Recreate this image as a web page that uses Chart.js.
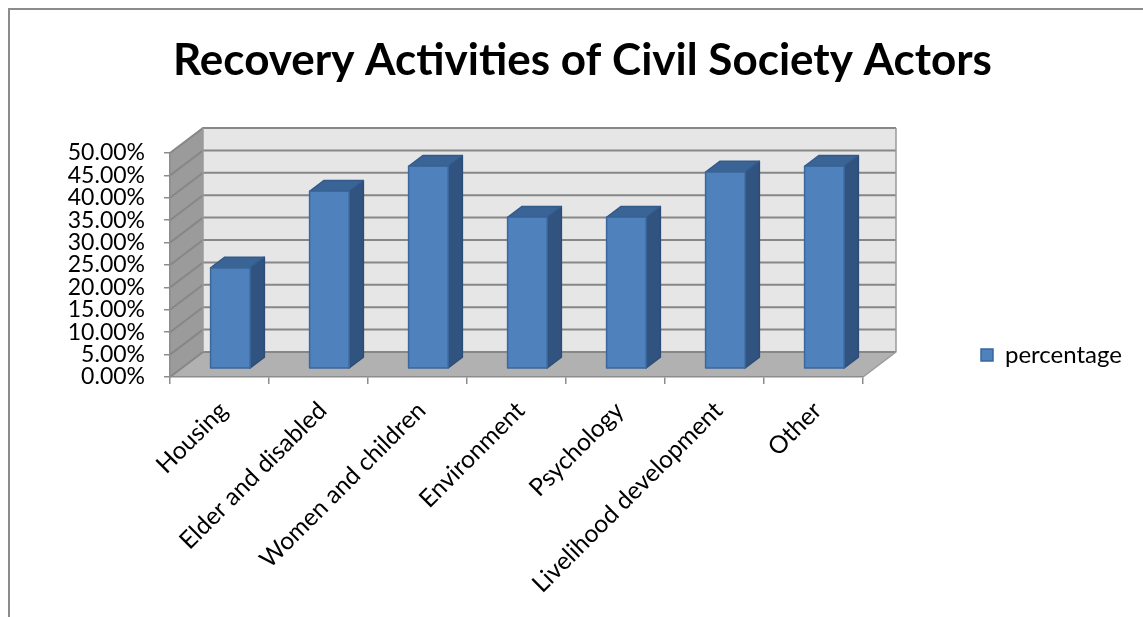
<!DOCTYPE html>
<html>
<head>
<meta charset="utf-8">
<script src="https://cdn.jsdelivr.net/npm/chart.js@4.4.1/dist/chart.umd.min.js"></script>
<style>
  html, body { margin: 0; padding: 0; background: #fff; }
</style>
</head>
<body>
<canvas id="chart" width="1143" height="617"></canvas>
<script>
const categories = ['Housing', 'Elder and disabled', 'Women and children', 'Environment', 'Psychology', 'Livelihood development', 'Other'];
const percentage = [0.225, 0.396, 0.452, 0.338, 0.338, 0.439, 0.452];
const yTickLabels = ['0.00%', '5.00%', '10.00%', '15.00%', '20.00%', '25.00%', '30.00%', '35.00%', '40.00%', '45.00%', '50.00%'];

// oblique "3D" offset of the back wall and where the bars sit in depth
const DEPTH = { x: 33, y: -25 };
const BAR_FRONT = 0.33;
const BAR_DEPTH = 0.43;

function poly(ctx, pts) {
    ctx.beginPath();
    ctx.moveTo(pts[0][0], pts[0][1]);
    for (let i = 1; i < pts.length; i++) ctx.lineTo(pts[i][0], pts[i][1]);
    ctx.closePath();
}

const threeD = {
    id: 'threeD',
    beforeDraw(chart) {
        const { ctx, chartArea: a } = chart;
        const y = chart.scales.y;
        const dx = DEPTH.x, dy = DEPTH.y;
        ctx.save();
        // side wall
        ctx.fillStyle = '#9b9b9b';
        poly(ctx, [[a.left, a.top], [a.left + dx, a.top + dy], [a.left + dx, a.bottom + dy], [a.left, a.bottom]]);
        ctx.fill();
        // back wall
        ctx.fillStyle = '#e6e6e6';
        ctx.fillRect(a.left + dx, a.top + dy, a.right - a.left, a.bottom - a.top);
        // floor
        ctx.fillStyle = '#b1b1b1';
        poly(ctx, [[a.left, a.bottom], [a.left + dx, a.bottom + dy], [a.right + dx, a.bottom + dy], [a.right, a.bottom]]);
        ctx.fill();

        // gridlines on side and back wall
        ctx.strokeStyle = '#878787';
        ctx.lineWidth = 2;
        y.ticks.forEach(t => {
            const py = y.getPixelForValue(t.value);
            ctx.beginPath();
            ctx.moveTo(a.left, py);
            ctx.lineTo(a.left + dx, py + dy);
            ctx.lineTo(a.right + dx, py + dy);
            ctx.stroke();
        });
        // wall edges
        ctx.strokeStyle = '#9a9a9a';
        ctx.lineWidth = 1.5;
        ctx.beginPath();
        ctx.moveTo(a.left + dx, a.top + dy);
        ctx.lineTo(a.left + dx, a.bottom + dy);
        ctx.moveTo(a.right + dx, a.top + dy);
        ctx.lineTo(a.right + dx, a.bottom + dy);
        ctx.lineTo(a.right, a.bottom);
        ctx.stroke();
        ctx.restore();
    },
    beforeDatasetDraw(chart, args) {
        const { ctx } = chart;
        const meta = chart.getDatasetMeta(args.index);
        const fx = DEPTH.x * BAR_FRONT, fy = DEPTH.y * BAR_FRONT;
        const ddx = DEPTH.x * BAR_DEPTH, ddy = DEPTH.y * BAR_DEPTH;
        ctx.save();
        ctx.lineWidth = 1.5;
        ctx.lineJoin = 'round';
        meta.data.forEach(bar => {
            const p = bar.getProps(['x', 'y', 'base', 'width'], true);
            const l = p.x - p.width / 2 + fx, r = p.x + p.width / 2 + fx;
            const t = p.y + fy, b = p.base + fy;
            // side
            ctx.fillStyle = '#30547f';
            ctx.strokeStyle = '#2c4d77';
            poly(ctx, [[r, t], [r + ddx, t + ddy], [r + ddx, b + ddy], [r, b]]);
            ctx.fill(); ctx.stroke();
            // top
            ctx.fillStyle = '#3a6396';
            ctx.strokeStyle = '#335a8a';
            poly(ctx, [[l, t], [l + ddx, t + ddy], [r + ddx, t + ddy], [r, t]]);
            ctx.fill(); ctx.stroke();
            // front
            ctx.fillStyle = '#4f81bd';
            ctx.strokeStyle = '#3a679c';
            ctx.fillRect(l, t, r - l, b - t);
            ctx.strokeRect(l, t, r - l, b - t);
        });
        ctx.restore();
        return false;
    },
    afterDraw(chart) {
        const { ctx } = chart;
        ctx.save();
        ctx.strokeStyle = '#8c8c8c';
        ctx.lineWidth = 2;
        ctx.beginPath();
        ctx.moveTo(9, chart.height);
        ctx.lineTo(9, 9);
        ctx.lineTo(chart.width, 9);
        ctx.stroke();
        ctx.restore();
    }
};

Chart.defaults.font.family = 'Lato';
Chart.defaults.color = '#000';

new Chart(document.getElementById('chart'), {
    type: 'bar',
    data: {
        labels: categories,
        datasets: [{
            label: 'percentage',
            data: percentage,
            backgroundColor: '#4f81bd',
            borderColor: '#3a679c',
            borderWidth: 1.5,
            barPercentage: 0.4,
            categoryPercentage: 1
        }]
    },
    options: {
        responsive: false,
        animation: false,
        layout: { padding: { left: 33, right: 11, top: 0, bottom: 0 } },
        scales: {
            x: {
                grid: { drawOnChartArea: false, color: '#8c8c8c', tickLength: 7, lineWidth: 1.5 },
                border: { color: '#8c8c8c', width: 1.5 },
                ticks: { minRotation: 45, maxRotation: 45, autoSkip: false, padding: 12, labelOffset: 4, font: { size: 24.5 } },
                afterFit(s) { s.height = 617 - 377; }
            },
            y: {
                min: 0,
                max: 0.5,
                grid: { drawOnChartArea: false, color: '#8c8c8c', tickLength: 6, lineWidth: 1.5 },
                border: { color: '#8c8c8c', width: 1.5 },
                ticks: { stepSize: 0.05, autoSkip: false, padding: 19, font: { size: 23 }, callback: (v, i) => yTickLabels[i] },
                afterFit(s) { s.width = 170 - 33; }
            },
            yPad: {
                position: 'right',
                grid: { display: false },
                border: { display: false },
                ticks: { display: false },
                afterFit(s) { s.width = 108; }
            }
        },
        plugins: {
            title: {
                display: true,
                text: 'Recovery Activities of Civil Society Actors',
                font: { size: 44, weight: 'bold' },
                color: '#000',
                padding: { top: 34, bottom: 66.2 }
            },
            legend: {
                position: 'right',
                fullSize: false,
                align: 'end',
                labels: { boxWidth: 12, boxHeight: 12, font: { size: 24 } }
            },
            tooltip: { enabled: false }
        }
    },
    plugins: [threeD]
});
</script>
</body>
</html>
